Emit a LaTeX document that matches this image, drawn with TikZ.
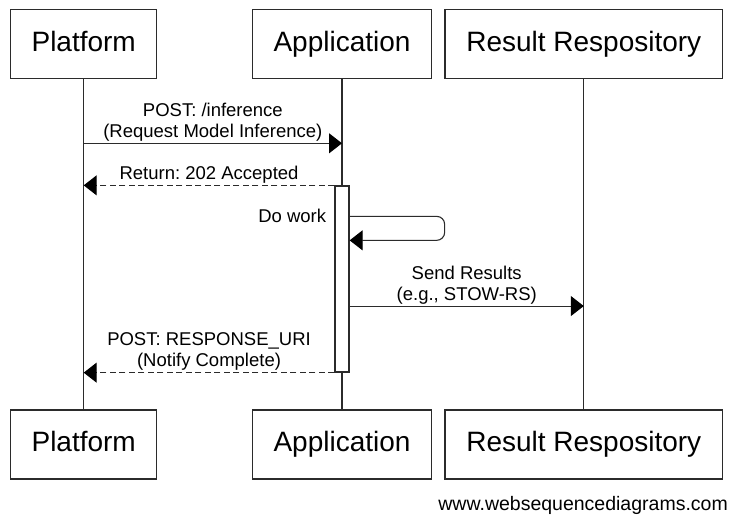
\documentclass[tikz,border=0pt]{standalone}
\usepackage{fontspec}
\setmainfont{Liberation Sans}
\frenchspacing
\usepackage{tikz}
\usetikzlibrary{positioning,arrows.meta,calc}
\definecolor{wsdline}{HTML}{2B2B2B}
\tikzset{
  actor/.style={draw=wsdline, line width=1.3pt, inner sep=0pt, minimum height=69pt,
    text height=20pt, text depth=5.6pt, font=\fontsize{28}{32}\selectfont},
  life/.style={draw=wsdline, line width=1.3pt},
  activation/.style={draw=wsdline, fill=white, line width=1.3pt, inner sep=0pt,
    minimum width=14pt, minimum height=186pt},
  msg/.style={draw=wsdline, line width=1.1pt, -{Triangle[length=13pt,width=20pt,color=black]}},
  reply/.style={msg, dash pattern=on 6pt off 3.5pt},
  msglabel/.style={anchor=south, inner sep=1.5pt, align=center,
    font=\fontsize{18.5}{21}\selectfont},
}

\begin{document}
\begin{tikzpicture}[x=1pt, y=-1pt]
\useasboundingbox (0,0) rectangle (730,516);
% participants, top and bottom, with their lifelines
\foreach \n/\x/\w/\t in {plat/83.7/146/Platform, app/342/178.6/Application, res/583.8/277.7/Result Respository} {
  \node[actor, minimum width=\w] (top\n) at (\x,44) {\t};
  \node[actor, minimum width=\w] (bot\n) at (\x,444.5) {\t};
  \draw[life] (top\n) -- (bot\n);
}
\node[activation] (act) at (342,279) {};
\coordinate (req) at (topplat |- 0,143.3);
\coordinate (reqend) at (topapp |- req);
\coordinate (loopa) at ($(act.north east)+(0,31)$);
\coordinate (loopb) at ($(loopa)+(95,0)$);
\coordinate (loopc) at ($(loopb)+(0,24)$);
\coordinate (loopd) at (act.east |- loopc);
\coordinate (send) at ($(act.north east)+(0,120.7)$);
\coordinate (sendend) at (topres |- send);
\draw[msg] (req) -- (reqend)
  node[msglabel, midway] {POST: /inference\\(Request Model Inference)};
\draw[reply] (act.north west) -- (topplat |- act.north)
  node[msglabel, midway] {Return: 202 Accepted};
\draw[msg, rounded corners=8pt] (loopa) -- (loopb) -- (loopc) -- (loopd);
\node[msglabel, anchor=base east, inner sep=0pt] (work) at ($(act.north west)+(-8,37)$) {Do work};
\draw[msg] (send) -- (sendend)
  node[msglabel, midway] {Send Results\\(e.g., STOW-RS)};
\draw[reply] (act.south west) -- (topplat |- act.south)
  node[msglabel, midway] {POST: RESPONSE\_URI\\(Notify Complete)};
\node[anchor=base east, inner sep=0pt, font=\fontsize{19.5}{23}\selectfont] (credit) at (728,510) {www.websequencediagrams.com};
\end{tikzpicture}
\end{document}
